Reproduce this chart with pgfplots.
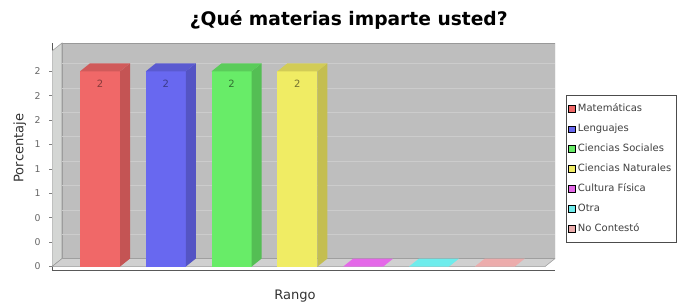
\documentclass[border=0pt]{standalone}
\usepackage{pgfplots}
\pgfplotsset{compat=1.18}
\usepackage{fontspec}
\setmainfont{DejaVu Sans}
\definecolor{wallback}{RGB}{190,190,190}
\definecolor{wallside}{RGB}{212,214,212}
\definecolor{wallfloor}{RGB}{208,208,208}
\definecolor{gridc}{RGB}{204,204,204}
\definecolor{rf}{RGB}{240,104,104}\definecolor{rs}{RGB}{196,84,84}\definecolor{rt}{RGB}{208,90,90}
\definecolor{bf}{RGB}{104,104,240}\definecolor{bs}{RGB}{84,84,196}\definecolor{bt}{RGB}{90,90,208}
\definecolor{gf}{RGB}{104,236,104}\definecolor{gs}{RGB}{84,190,84}\definecolor{gt}{RGB}{90,204,90}
\definecolor{yf}{RGB}{240,236,100}\definecolor{ys}{RGB}{196,190,80}\definecolor{yt}{RGB}{210,204,86}
\definecolor{mf}{RGB}{228,104,232}
\definecolor{cf}{RGB}{110,236,236}
\definecolor{pf}{RGB}{236,172,172}
\begin{document}
\begin{tikzpicture}
\path[use as bounding box] (0,0) rectangle (510pt,229.5pt);
\clip (0,0) rectangle (510pt,229.5pt);
\begin{axis}[
  at={(39pt,27pt)}, anchor=south west,
  scale only axis, width=377.25pt, height=170.25pt,
  xmin=52, xmax=555, ymin=-0.035, ymax=2.29,
  axis x line*=bottom, axis y line*=left,
  axis line style={gray!70!black, line width=0.4pt, -},
  xtick=\empty,
  ytick={0,0.25,0.5,0.75,1,1.25,1.5,1.75,2},
  yticklabels={0,0,0,1,1,1,2,2,2},
  /pgf/number format/assume math mode=true,
  yticklabel style={font=\fontsize{7}{8}\selectfont, text=gray!80!black, xshift=-3pt},
  ytick style={gray, line width=0.4pt},
  tick align=outside, major tick length=2pt,
  ylabel={Porcentaje},
  ylabel style={at={(axis description cs:-0.064,0.537)}, anchor=center, font=\fontsize{9.8}{11}\selectfont, text=black!80},
  xlabel={Rango},
  xlabel style={at={(axis description cs:0.483,-0.115)}, anchor=center, font=\fontsize{9.8}{11}\selectfont, text=black!80},
  title={¿Qué materias imparte usted?},
  title style={at={(axis description cs:0.59,1.066)}, anchor=center, font=\bfseries\fontsize{14}{16}\selectfont},
  legend style={at={(axis description cs:1.022,0.771)}, anchor=north west,
    font=\fontsize{7.5}{8.5}\selectfont, text=black!75, draw=gray!60!black, fill=white,
    row sep=3.7pt, inner xsep=1.5pt, inner ysep=4.5pt},
  legend cell align=left,
  legend image code/.code={\fill[#1] (0pt,-2.4pt) rectangle (4.8pt,2.4pt);},
]
% walls
\addplot[fill=wallback, draw=gray!80, forget plot] coordinates {(62,0.082) (555,0.082) (555,2.29) (62,2.29)} --cycle;
\addplot[fill=wallside, draw=gray!80, forget plot] coordinates {(52,0) (62,0.082) (62,2.29) (52,2.208)} --cycle;
\addplot[fill=wallfloor, draw=gray!80, forget plot] coordinates {(52,0) (62,0.082) (555,0.082) (545,0)} --cycle;
% grid lines on back wall
\addplot[gridc, line width=0.3pt, forget plot] coordinates {(62,0.332) (555,0.332)};
\addplot[gridc, line width=0.3pt, forget plot] coordinates {(62,0.582) (555,0.582)};
\addplot[gridc, line width=0.3pt, forget plot] coordinates {(62,0.832) (555,0.832)};
\addplot[gridc, line width=0.3pt, forget plot] coordinates {(62,1.082) (555,1.082)};
\addplot[gridc, line width=0.3pt, forget plot] coordinates {(62,1.332) (555,1.332)};
\addplot[gridc, line width=0.3pt, forget plot] coordinates {(62,1.582) (555,1.582)};
\addplot[gridc, line width=0.3pt, forget plot] coordinates {(62,1.832) (555,1.832)};
\addplot[gridc, line width=0.3pt, forget plot] coordinates {(62,2.082) (555,2.082)};
% red
\addplot[fill=rf, draw=none, forget plot] coordinates {(80,0) (120,0) (120,2) (80,2)} --cycle;
\addplot[fill=rs, draw=none, forget plot] coordinates {(120,0) (130,0.082) (130,2.082) (120,2)} --cycle;
\addplot[fill=rt, draw=none, forget plot] coordinates {(80,2) (90,2.082) (130,2.082) (120,2)} --cycle;
% blue
\addplot[fill=bf, draw=none, forget plot] coordinates {(145.8,0) (185.8,0) (185.8,2) (145.8,2)} --cycle;
\addplot[fill=bs, draw=none, forget plot] coordinates {(185.8,0) (195.8,0.082) (195.8,2.082) (185.8,2)} --cycle;
\addplot[fill=bt, draw=none, forget plot] coordinates {(145.8,2) (155.8,2.082) (195.8,2.082) (185.8,2)} --cycle;
% green
\addplot[fill=gf, draw=none, forget plot] coordinates {(211.6,0) (251.6,0) (251.6,2) (211.6,2)} --cycle;
\addplot[fill=gs, draw=none, forget plot] coordinates {(251.6,0) (261.6,0.082) (261.6,2.082) (251.6,2)} --cycle;
\addplot[fill=gt, draw=none, forget plot] coordinates {(211.6,2) (221.6,2.082) (261.6,2.082) (251.6,2)} --cycle;
% yellow
\addplot[fill=yf, draw=none, forget plot] coordinates {(277.4,0) (317.4,0) (317.4,2) (277.4,2)} --cycle;
\addplot[fill=ys, draw=none, forget plot] coordinates {(317.4,0) (327.4,0.082) (327.4,2.082) (317.4,2)} --cycle;
\addplot[fill=yt, draw=none, forget plot] coordinates {(277.4,2) (287.4,2.082) (327.4,2.082) (317.4,2)} --cycle;
% zero-height bars
\addplot[fill=mf, draw=none, forget plot] coordinates {(343.2,0) (353.2,0.082) (393.2,0.082) (383.2,0)} --cycle;
\addplot[fill=cf, draw=none, forget plot] coordinates {(409,0) (419,0.082) (459,0.082) (449,0)} --cycle;
\addplot[fill=pf, draw=none, forget plot] coordinates {(474.8,0) (484.8,0.082) (524.8,0.082) (514.8,0)} --cycle;
% value labels
\addplot[draw=none, forget plot, nodes near coords={2}, every node near coord/.style={font=\fontsize{7.5}{8}\selectfont, text=rs!70!black, anchor=north, yshift=-3pt}] coordinates {(100,2)};
\addplot[draw=none, forget plot, nodes near coords={2}, every node near coord/.style={font=\fontsize{7.5}{8}\selectfont, text=bs!70!black, anchor=north, yshift=-3pt}] coordinates {(165.8,2)};
\addplot[draw=none, forget plot, nodes near coords={2}, every node near coord/.style={font=\fontsize{7.5}{8}\selectfont, text=gs!60!black, anchor=north, yshift=-3pt}] coordinates {(231.6,2)};
\addplot[draw=none, forget plot, nodes near coords={2}, every node near coord/.style={font=\fontsize{7.5}{8}\selectfont, text=ys!60!black, anchor=north, yshift=-3pt}] coordinates {(297.4,2)};
% legend
\addlegendimage{fill=rf}\addlegendentry{Matemáticas}
\addlegendimage{fill=bf}\addlegendentry{Lenguajes}
\addlegendimage{fill=gf}\addlegendentry{Ciencias Sociales}
\addlegendimage{fill=yf}\addlegendentry{Ciencias Naturales}
\addlegendimage{fill=mf}\addlegendentry{Cultura Física}
\addlegendimage{fill=cf}\addlegendentry{Otra}
\addlegendimage{fill=pf}\addlegendentry{No Contestó}
\end{axis}
\end{tikzpicture}
\end{document}
